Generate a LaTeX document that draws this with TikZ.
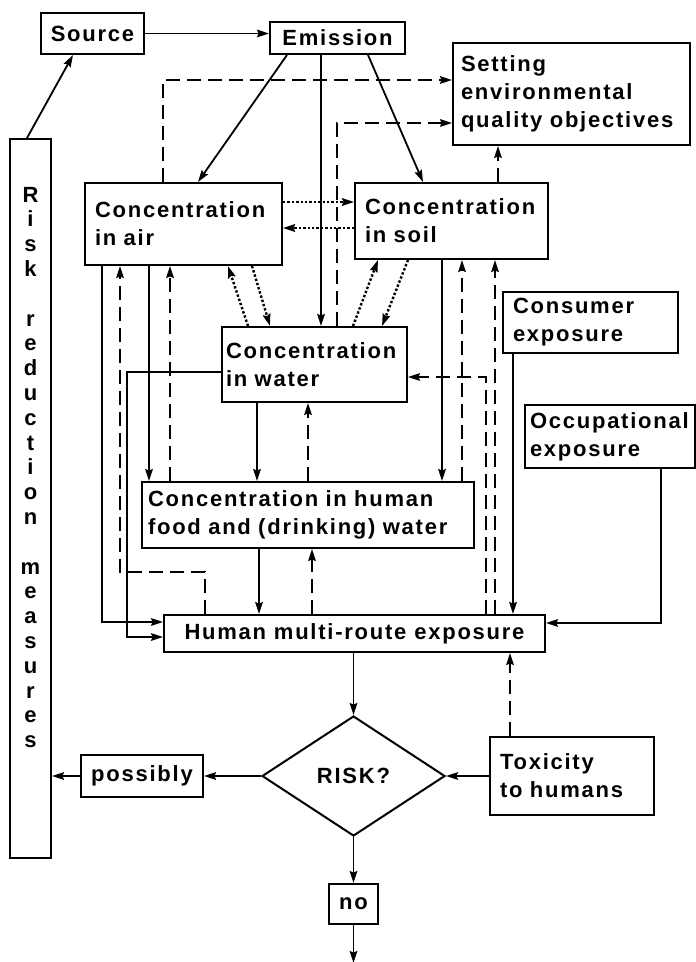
\documentclass[tikz,border=0pt]{standalone}
\usepackage{fontspec}
\setsansfont{Liberation Sans}[LetterSpace=8]
\usepackage{tikz}
\usetikzlibrary{arrows.meta,positioning,shapes.geometric}
\tikzset{
    %Define standard arrow tip
    >={Stealth[length=6pt,width=3.8pt,inset=0.8pt]},
    %Define style for boxes
    box/.style={
           rectangle,
           draw=black, line width=1pt,
           inner xsep=5pt, inner ysep=2pt,
           align=left,
           font=\sffamily\bfseries\fontsize{11}{14}\selectfont},
    decision/.style={
           diamond,
           draw=black, line width=1pt,
           aspect=1.5, inner sep=0pt,
           minimum width=91.5pt,
           minimum height=60pt,
           font=\sffamily\bfseries\fontsize{11}{14}\selectfont},
    measbox/.style={
           rectangle,
           draw=black, line width=1pt,
           inner sep=0pt,
           minimum width=20.5pt,
           minimum height=359.5pt,
           font=\sffamily\bfseries\fontsize{11}{12.4}\selectfont},
    % Define arrow styles
    flow/.style={
           ->,
           line width=0.9pt},
    back/.style={
           ->,
           line width=0.9pt,
           dash pattern=on 7pt off 3.5pt},
    trans/.style={
           ->,
           line width=1.2pt,
           densely dotted}
}
\begin{document}
\begin{tikzpicture}[x=0.5pt,y=-0.5pt,node distance=20pt]
\useasboundingbox (0,0) rectangle (695,962);
 %nodes
\node[box, minimum width=50.5pt, minimum height=20.5pt] (source) at (92.5,33.5) {Source};
\node[box, minimum width=67.5pt, minimum height=16pt] (emission) at (337.5,38) {Emission};
\node[box, text width=110.5pt, inner xsep=4pt, minimum height=51pt] (setting) at (571.5,94) {Setting\\environmental\\quality objectives};
\node[measbox] (measures) at (30.5,498.5) {\parbox[c][359.5pt][t]{20.5pt}{\centering\vspace*{24pt}R\\i\\s\\k\\~\\r\\e\\d\\u\\c\\t\\i\\o\\n\\~\\m\\e\\a\\s\\u\\r\\e\\s}};
\node[box, text width=88.5pt, minimum height=41pt] (air) at (183.5,224) {Concentration\\in air};
\node[box, text width=86.5pt, minimum height=38pt] (soil) at (451.5,221) {Concentration\\in soil};
\node[box, text width=88.5pt, inner xsep=2pt, minimum height=37.5pt] (water) at (314.5,364.5) {Concentration\\in water};
\node[box, text width=77.5pt, minimum height=30.5pt] (consumer) at (590.5,322.5) {Consumer\\exposure};
\node[box, text width=80pt, inner xsep=2.5pt, minimum height=31.5pt] (occupational) at (610,436.5) {Occupational\\exposure};
\node[box, text width=160pt, inner xsep=3pt, minimum height=33pt] (food) at (308,515) {Concentration in human\\food and (drinking) water};
\node[box, minimum width=190.5pt, minimum height=18.5pt] (human) at (354.5,633.5) {Human multi-route exposure};
\node[decision] (risk) at (353.5,776) {RISK?};
\node[box, text width=72pt, minimum height=39pt] (toxicity) at (572,776) {Toxicity\\to humans};
\node[box, minimum width=61pt, minimum height=21pt, left=28.5pt of risk] (possibly) {possibly};
\node[box, minimum width=22.5pt, minimum height=20pt, below=23pt of risk] (no) {no};
\coordinate[below=19pt of no] (out);

 %emission and measures
\draw[flow] (source.east) -- (source.east -| emission.west);
\draw[flow] (measures.north -| 27,0) -- (source.south -| 73,0);
\draw[flow] (emission.south -| 287,0) -- (air.north -| 198,0);
\draw[flow] (emission.south -| 321,0) -- (water.north -| 321,0);
\draw[flow] (emission.south -| 368,0) -- (soil.north -| 423,0);
\draw[back] (air.north -| 163,0) |- (setting.west |- 0,80);
\draw[back] (water.north -| 337,0) |- (setting.west |- 0,123);
\draw[back] (soil.north -| 498,0) -- (setting.south -| 498,0);

 %exchange between compartments
\draw[trans] (air.east |- 0,202) -- (soil.west |- 0,202);
\draw[trans] (soil.west |- 0,228) -- (air.east |- 0,228);
\draw[trans] (water.north -| 248,0) -- (air.south -| 228,0);
\draw[trans] (air.south -| 252,0) -- (water.north -| 270,0);
\draw[trans] (water.north -| 353,0) -- (soil.south -| 378,0);
\draw[trans] (soil.south -| 408,0) -- (water.north -| 382,0);

 %routes to humans
\draw[flow] (air.south -| 102,0) |- (human.west |- 0,622);
\draw[back] (human.north -| 205,0) -- ++(0,-42) -| (air.south -| 120,0);
\draw[flow] (air.south -| 149,0) -- (food.north -| 149,0);
\draw[back] (food.north -| 170,0) -- (air.south -| 170,0);
\draw[flow] (water.west |- 0,372) -- ++(-94,0) |- (human.west |- 0,637);
\draw[flow] (water.south -| 257,0) -- (food.north -| 257,0);
\draw[back] (food.north -| 308,0) -- (water.south -| 308,0);
\draw[flow] (food.south -| 259,0) -- (human.north -| 259,0);
\draw[back] (human.north -| 312,0) -- (food.south -| 312,0);
\draw[flow] (soil.south -| 442,0) -- (food.north -| 442,0);
\draw[back] (food.north -| 462,0) -- (soil.south -| 462,0);
\draw[back] (human.north -| 486,0) |- (water.east |- 0,377);
\draw[back] (human.north -| 495,0) -- (soil.south -| 495,0);
\draw[flow] (consumer.south -| 513,0) -- (human.north -| 513,0);
\draw[flow] (occupational.south -| 661,0) |- (human.east |- 0,623);

 %risk decision
\draw[flow] (human.south -| risk.north) -- (risk.north);
\draw[back] (toxicity.north -| 510,0) -- (human.south -| 510,0);
\draw[flow] (toxicity.west) -- (risk.east);
\draw[flow] (risk.west) -- (possibly.east);
\draw[flow] (possibly.west) -- (possibly.west -| measures.east);
\draw[flow] (risk.south) -- (no.north);
\draw[flow] (no.south) -- (out);
\end{tikzpicture}
\end{document}
